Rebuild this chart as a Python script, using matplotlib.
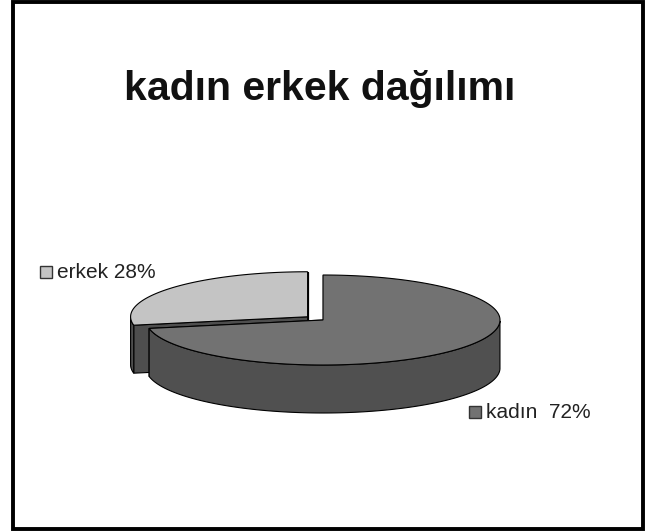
import numpy as np
import matplotlib.pyplot as plt
from matplotlib.patches import Polygon, Rectangle

plt.rcParams['font.family'] = ['Liberation Sans', 'DejaVu Sans']

title = 'kadın erkek dağılımı'
labels = ['erkek', 'kadın']
values = [28, 72]
top_colors = ['#c4c4c4', '#727272']
side_colors = ['#4e4e4e', '#505050']

# pie geometry in pixels
cx, cy = 323, 320
a, b = 177, 45
depth = 48
start = 90.0
explode = [20, 0]


def pt(theta, r=1.0, dx=0.0, dy=0.0, z=0.0):
    t = np.radians(theta)
    return (cx + dx + a * r * np.cos(t), cy + dy - b * r * np.sin(t) + z)


fig = plt.figure(figsize=(6.45, 5.31), dpi=100)
ax = fig.add_axes([0, 0, 1, 1])
ax.set_xlim(0, 645)
ax.set_ylim(531, 0)
ax.axis('off')

ax.add_patch(Rectangle((13, 2), 630, 527, fill=False, edgecolor='black', lw=2.8))
ax.text(320, 89, title, ha='center', va='center', fontsize=29.5, fontweight='bold', color='#111111')

total = float(sum(values))
angle = start
for i, v in enumerate(values):
    span = 360.0 * v / total
    t0, t1 = angle, angle + span
    angle = t1
    mid = np.radians((t0 + t1) / 2)
    dx = explode[i] * np.cos(mid)
    dy = -explode[i] * np.sin(mid) * b / a
    c = (cx + dx, cy + dy)
    # radial faces
    for tt in (t0, t1):
        p = pt(tt, dx=dx, dy=dy)
        q = pt(tt, dx=dx, dy=dy, z=depth)
        ax.add_patch(Polygon([c, p, q, (c[0], c[1] + depth)], closed=True,
                             facecolor=side_colors[i], edgecolor='black', lw=0.8))
    # outer wall, visible front half only
    ts = np.linspace(t0, t1, 200)
    ts_m = np.mod(ts, 360)
    vis = ts[(ts_m >= 180) & (ts_m <= 360)]
    if len(vis) > 1:
        top = [pt(t, dx=dx, dy=dy) for t in vis]
        bot = [pt(t, dx=dx, dy=dy, z=depth) for t in vis[::-1]]
        ax.add_patch(Polygon(top + bot, closed=True, facecolor=side_colors[i],
                             edgecolor='black', lw=0.8))
    # top face
    face = [c] + [pt(t, dx=dx, dy=dy) for t in ts]
    ax.add_patch(Polygon(face, closed=True, facecolor=top_colors[i],
                         edgecolor='black', lw=0.8))

# labels with small legend squares
label_pos = [(40, 272), (469, 412)]
for i, (lx, ly) in enumerate(label_pos):
    pct = round(100 * values[i] / total)
    ax.add_patch(Rectangle((lx, ly - 6), 12, 12, facecolor=top_colors[i], edgecolor='#333333', lw=1))
    sep = ' ' if i == 0 else '  '
    ax.text(lx + 17, ly, f'{labels[i]}{sep}{pct}%', ha='left', va='center', fontsize=15, color='#222222')

fig.savefig('out.png', dpi=100)
